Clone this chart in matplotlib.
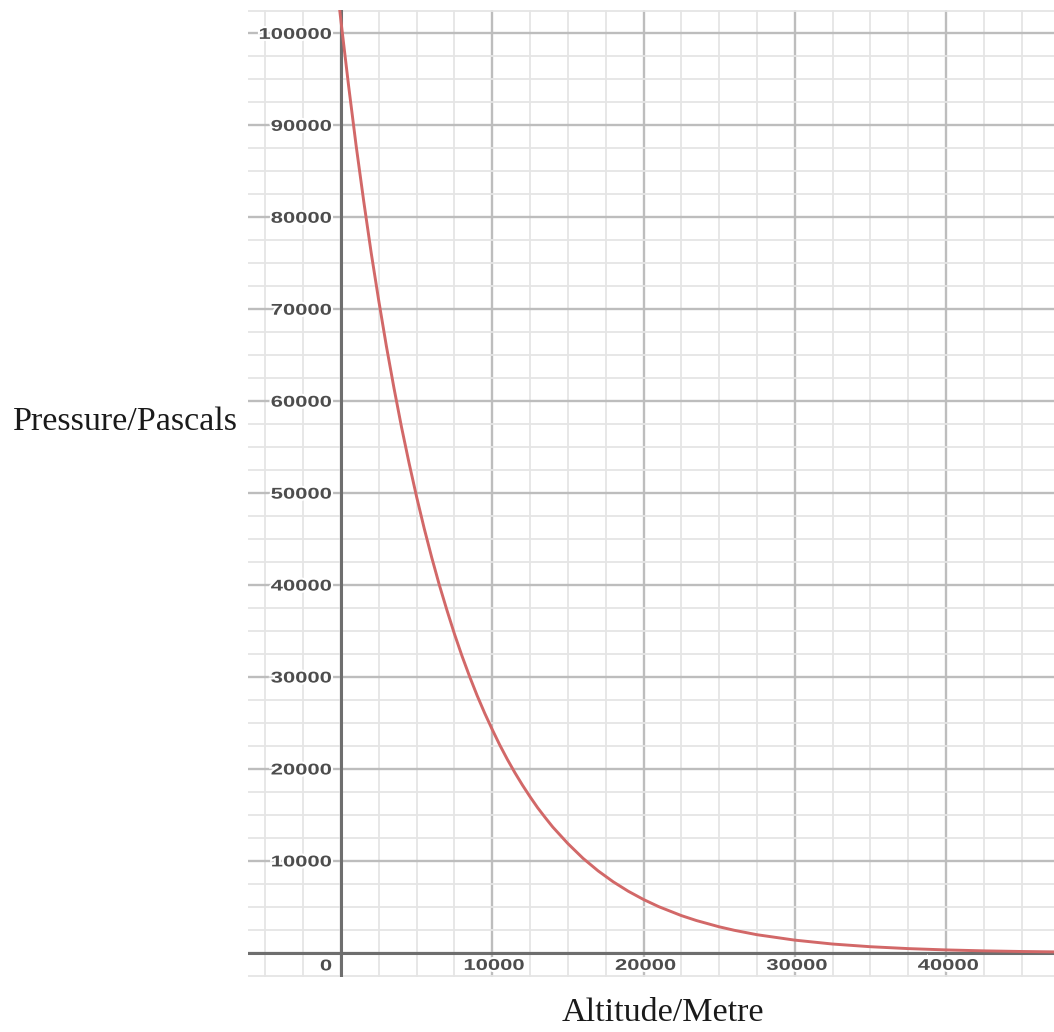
import matplotlib
matplotlib.use("Agg")
import matplotlib.pyplot as plt
import matplotlib.patheffects as pe
from matplotlib.font_manager import FontProperties
from matplotlib.patches import PathPatch
from matplotlib.textpath import TextPath
from matplotlib.transforms import Affine2D
from matplotlib.ticker import MultipleLocator

# values
altitude_m = [-400, -200, 0, 500, 1000, 1500, 2000, 2500, 3000, 3500, 4000,
              4500, 5000, 5500, 6000, 6500, 7000, 7500, 8000, 8500, 9000,
              9500, 10000, 10500, 11000, 11500, 12000, 12500, 13000, 13500,
              14000, 15000, 16000, 17000, 18000, 19000, 20000, 21000, 22500,
              23500, 25000, 26000, 27500, 30000, 32500, 35000, 37500, 40000,
              42500, 45000, 47500]
pressure_pa = [107300, 104260, 101300, 94340, 87800, 81780, 76100, 70900,
               66000, 61460, 57200, 53280, 49600, 46180, 43000, 40030, 37300,
               34700, 32300, 30080, 28000, 26080, 24300, 22610, 21050, 19600,
               18250, 16990, 15800, 14730, 13700, 11900, 10300, 8930, 7740,
               6710, 5820, 5045, 4070, 3530, 2850, 2470, 1990, 1400, 975, 683,
               478, 335, 234, 164, 115]

x_ticks = [0, 10000, 20000, 30000, 40000]
y_ticks = [10000, 20000, 30000, 40000, 50000, 60000, 70000, 80000, 90000, 100000]

W, H = 1054, 1032
fig = plt.figure(figsize=(W / 100, H / 100), dpi=100)
ax = fig.add_axes([248 / W, 55 / H, 806 / W, 967 / H])
ax.set_xlim(-6149, 47140)
ax.set_ylim(-2610, 102555)

ax.xaxis.set_major_locator(MultipleLocator(10000))
ax.xaxis.set_minor_locator(MultipleLocator(2500))
ax.yaxis.set_major_locator(MultipleLocator(10000))
ax.yaxis.set_minor_locator(MultipleLocator(2500))
ax.grid(which="minor", color="#e5e5e5", lw=1.3)
ax.grid(which="major", color="#bdbdbd", lw=1.7)
ax.tick_params(which="both", length=0, labelbottom=False, labelleft=False)
for s in ax.spines.values():
    s.set_visible(False)
ax.set_axisbelow(True)

ax.axhline(0, color="#6e6e6e", lw=2.2, zorder=2)
ax.axvline(0, color="#6e6e6e", lw=2.2, zorder=2)
ax.plot(altitude_m, pressure_pa, color="#d26868", lw=2.1, zorder=3,
        solid_joinstyle="round")

# desmos-style stretched tick labels with a white halo
tick_font = FontProperties(family="Liberation Sans", weight="bold")
SX, SY = 22.0, 15.6


def tick_label(text, x, y, ha, dx=0.0, dy=0.0):
    path = TextPath((0, 0), text, size=1, prop=tick_font)
    ext = path.get_extents()
    px, py = ax.transData.transform((x, y))
    px += dx
    py += dy
    if ha == "right":
        ox = px - ext.x1 * SX
    else:
        ox = px - (ext.x0 + ext.x1) / 2 * SX
    oy = py - (ext.y0 + ext.y1) / 2 * SY
    patch = PathPatch(path, facecolor="#4d4d4d", edgecolor="none",
                      transform=Affine2D().scale(SX, SY).translate(ox, oy))
    patch.set_path_effects([pe.withStroke(linewidth=3, foreground="white")])
    patch.set_clip_on(False)
    patch.set_zorder(5)
    fig.add_artist(patch)


for v in y_ticks:
    tick_label(str(v), 0, v, "right", dx=-10)
for v in x_ticks[1:]:
    tick_label(str(v), v, 0, "center", dx=2, dy=-11.5)
tick_label("0", 0, 0, "center", dx=-15, dy=-12)

serif = FontProperties(family="Liberation Serif", size=24.5)
fig.text(13 / W, 1 - 430 / H, "Pressure/Pascals", fontproperties=serif,
         ha="left", va="baseline", color="#1a1a1a")
fig.text(562 / W, 1 - 1021 / H, "Altitude/Metre", fontproperties=serif,
         ha="left", va="baseline", color="#1a1a1a")

fig.savefig("out.png", dpi=100)
